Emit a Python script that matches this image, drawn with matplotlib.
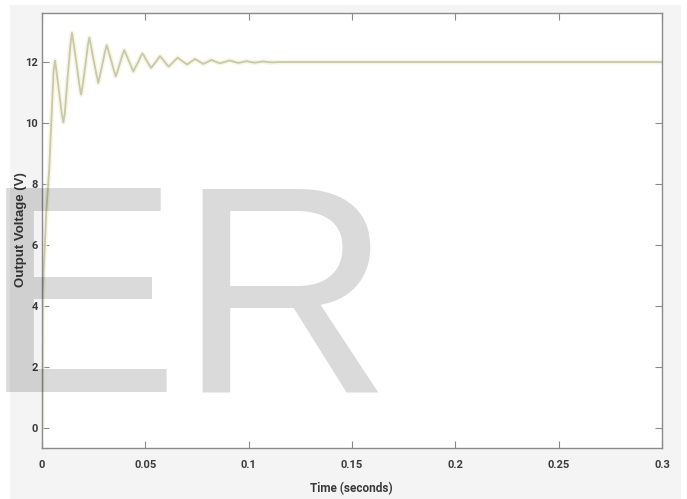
import matplotlib
matplotlib.use("Agg")
import matplotlib.pyplot as plt
from matplotlib.patches import Rectangle

# ---- data ----
time_s = [0.0000, 0.0003, 0.0020, 0.0035, 0.0048, 0.0056, 0.0063, 0.0070, 0.0083, 0.0096,
          0.0103, 0.0110, 0.0124, 0.0138, 0.0145, 0.0152, 0.0167, 0.0182, 0.0189, 0.0196,
          0.0209, 0.0222, 0.0229, 0.0236, 0.0250, 0.0265, 0.0272, 0.0279, 0.0292, 0.0306,
          0.0313, 0.0320, 0.0335, 0.0350, 0.0357, 0.0364, 0.0377, 0.0391, 0.0398, 0.0405,
          0.0420, 0.0435, 0.0442, 0.0449, 0.0464, 0.0479, 0.0486, 0.0493, 0.0507, 0.0521,
          0.0528, 0.0535, 0.0550, 0.0564, 0.0571, 0.0578, 0.0592, 0.0606, 0.0613, 0.0620,
          0.0635, 0.0650, 0.0657, 0.0679, 0.0702, 0.0721, 0.0740, 0.0760, 0.0780, 0.0800,
          0.0820, 0.0840, 0.0860, 0.0883, 0.0907, 0.0930, 0.0950, 0.0970, 0.0990, 0.1010,
          0.1030, 0.1050, 0.1070, 0.1090, 0.1110, 0.1150, 0.3000]
voltage_v = [0.00, 4.30, 7.00, 8.50, 10.50, 11.70, 12.05, 11.70, 11.00, 10.30,
             10.02, 10.30, 11.50, 12.60, 12.96, 12.65, 11.95, 11.20, 10.93, 11.20,
             11.85, 12.55, 12.80, 12.57, 12.05, 11.55, 11.31, 11.52, 11.93, 12.37,
             12.55, 12.40, 12.04, 11.68, 11.53, 11.67, 11.96, 12.27, 12.39, 12.28,
             12.04, 11.80, 11.69, 11.79, 11.98, 12.20, 12.28, 12.21, 12.04, 11.88,
             11.81, 11.87, 12.00, 12.13, 12.19, 12.14, 12.02, 11.90, 11.85, 11.90,
             12.00, 12.10, 12.14, 12.03, 11.92, 12.01, 12.10, 12.02, 11.94, 12.00,
             12.07, 12.01, 11.96, 12.00, 12.05, 12.01, 11.97, 12.00, 12.03, 12.00,
             11.98, 12.00, 12.02, 12.00, 11.99, 12.00, 12.00]

x_ticks = [0, 0.05, 0.1, 0.15, 0.2, 0.25, 0.3]
x_tick_labels = ["0", "0.05", "0.1", "0.15", "0.2", "0.25", "0.3"]
y_ticks = [0, 2, 4, 6, 8, 10, 12]
y_tick_labels = ["0", "2", "4", "6", "8", "10", "12"]
x_label = "Time (seconds)"
y_label = "Output Voltage (V)"
watermark = "ER"

narrow = ["Roboto", "DejaVu Sans"]

# ---- figure ----
W, H = 687, 499
fig = plt.figure(figsize=(W / 100, H / 100), dpi=100, facecolor="white")
fig.patches.append(Rectangle((10 / W, 0), (681 - 10) / W, (499 - 5) / H,
                             transform=fig.transFigure, facecolor="#f4f4f4",
                             edgecolor="none", zorder=-5))

ax = fig.add_axes([42 / W, (H - 448) / H, (662 - 42) / W, (448 - 13.3) / H])
ax.set_facecolor("white")

ax.plot(time_s, voltage_v, color="#f3f3d6", lw=3.5, alpha=0.7, solid_capstyle="round")
ax.plot(time_s, voltage_v, color="#c8c8ac", lw=1.3)

ax.set_xlim(0, 0.3)
ax.set_ylim(-0.67, 13.6)
ax.set_xticks(x_ticks)
ax.set_xticklabels(x_tick_labels)
ax.set_yticks(y_ticks)
ax.set_yticklabels(y_tick_labels)

for lbl in ax.get_xticklabels() + ax.get_yticklabels():
    lbl.set_family(narrow)
    lbl.set_fontweight("bold")
    lbl.set_fontsize(8)
    lbl.set_color("#3a3a3a")

ax.tick_params(direction="in", length=5, width=0.8, color="#8a8a8a",
               top=True, right=True)
ax.tick_params(axis="x", pad=9)
ax.tick_params(axis="y", pad=3)
for s in ax.spines.values():
    s.set_color("#8a8a8a")
    s.set_linewidth(1.0)

fig.text(351 / W, 1 - 489 / H, x_label, ha="center", va="center",
         family=narrow, fontweight="bold", fontsize=8.5, color="#3a3a3a")
fig.text(21 / W, 1 - 230 / H, y_label, ha="center", va="center", rotation=90,
         family=["Liberation Sans", "DejaVu Sans"], fontweight="bold", fontsize=9.5,
         color="#3a3a3a")

# watermark
fig.text(-18 / W, 1 - 392 / H, watermark, ha="left", va="baseline",
         family=["Liberation Sans", "DejaVu Sans"], fontsize=213,
         color="black", alpha=0.145, zorder=10)

fig.savefig("out.png", dpi=100, facecolor=fig.get_facecolor())
